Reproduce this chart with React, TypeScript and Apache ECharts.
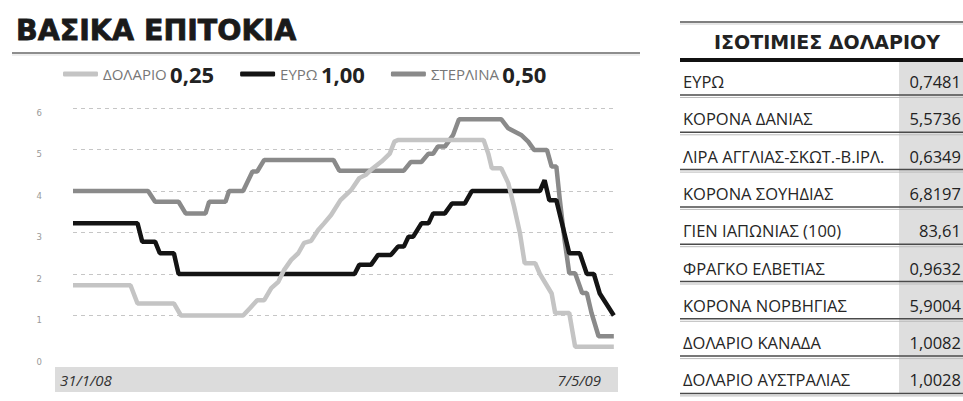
import React, { useEffect, useRef } from 'react';
import * as echarts from 'echarts';

const titleText = 'ΒΑΣΙΚΑ ΕΠΙΤΟΚΙΑ';
const seriesNames = ['ΔΟΛΑΡΙΟ', 'ΕΥΡΩ', 'ΣΤΕΡΛΙΝΑ'];
const currentRates = ['0,25', '1,00', '0,50'];
const seriesColors = ['#c4c4c4', '#141414', '#8a8a8a'];
const dateLabels = ['31/1/08', '7/5/09'];
const totalDays = 462; // 31/1/08 -> 7/5/09

// [days since 31/1/08, rate] as drawn
const dollar: [number, number][] = [
  [0, 1.73], [49, 1.73], [55, 1.29], [86, 1.29], [92, 1.0], [145, 1.0], [151, 1.18], [157, 1.37],
  [163, 1.37], [169, 1.66], [175, 1.81], [180, 2.1], [186, 2.34], [192, 2.5], [197, 2.75], [203, 2.8],
  [209, 3.06], [214, 3.22], [220, 3.42], [228, 3.78], [237, 4.02], [244, 4.31], [250, 4.4], [254, 4.51],
  [263, 4.71], [270, 4.9], [274, 5.19], [277, 5.23], [350, 5.23], [354, 4.9], [357, 4.55], [365, 4.55],
  [371, 4.19], [376, 3.62], [381, 2.98], [385, 2.26], [394, 2.26], [398, 2.0], [408, 1.53], [411, 1.06],
  [423, 1.06], [428, 0.25], [461, 0.25],
];
const euro: [number, number][] = [
  [0, 3.22], [55, 3.22], [59, 2.78], [70, 2.78], [74, 2.5], [86, 2.5], [90, 2.0], [240, 2.0],
  [244, 2.22], [254, 2.22], [260, 2.46], [271, 2.46], [277, 2.66], [282, 2.66], [286, 2.9], [290, 2.9],
  [297, 3.22], [303, 3.22], [307, 3.46], [317, 3.46], [323, 3.7], [334, 3.7], [340, 4.0], [398, 4.0],
  [402, 4.26], [406, 3.78], [412, 3.78], [423, 2.5], [432, 2.5], [438, 2.0], [444, 2.0], [449, 1.53],
  [461, 1.0],
];
const sterling: [number, number][] = [
  [0, 4.0], [64, 4.0], [70, 3.74], [90, 3.74], [96, 3.46], [113, 3.46], [116, 3.74], [130, 3.74],
  [133, 4.0], [145, 4.0], [153, 4.47], [157, 4.47], [163, 4.75], [222, 4.75], [227, 4.49], [282, 4.49],
  [288, 4.7], [297, 4.7], [303, 4.9], [307, 4.9], [311, 5.07], [317, 5.07], [320, 5.19], [324, 5.35],
  [329, 5.73], [365, 5.73], [371, 5.51], [382, 5.35], [388, 5.19], [393, 4.99], [404, 4.99], [408, 4.59],
  [412, 4.59], [415, 3.78], [419, 2.82], [423, 2.02], [428, 2.02], [434, 1.54], [438, 1.54], [442, 1.06],
  [448, 0.5], [461, 0.5],
];

const tableTitle = 'ΙΣΟΤΙΜΙΕΣ ΔΟΛΑΡΙΟΥ';
const currencies = [
  'ΕΥΡΩ', 'ΚΟΡΟΝΑ ΔΑΝΙΑΣ', 'ΛΙΡΑ ΑΓΓΛΙΑΣ-ΣΚΩΤ.-Β.ΙΡΛ.', 'ΚΟΡΟΝΑ ΣΟΥΗΔΙΑΣ', 'ΓΙΕΝ ΙΑΠΩΝΙΑΣ (100)',
  'ΦΡΑΓΚΟ ΕΛΒΕΤΙΑΣ', 'ΚΟΡΟΝΑ ΝΟΡΒΗΓΙΑΣ', 'ΔΟΛΑΡΙΟ ΚΑΝΑΔΑ', 'ΔΟΛΑΡΙΟ ΑΥΣΤΡΑΛΙΑΣ',
];
const exchangeRates = ['0,7481', '5,5736', '0,6349', '6,8197', '83,61', '0,9632', '5,9004', '1,0082', '1,0028'];

const sans = "'Open Sans', sans-serif";

export default function App() {
  const ref = useRef<HTMLDivElement>(null);
  useEffect(() => {
    if (!ref.current) return;
    const chart = echarts.init(ref.current, undefined, { renderer: 'svg' });

    const graphic: any[] = [];
    // title underline
    graphic.push({ type: 'line', shape: { x1: 12, y1: 53, x2: 640, y2: 53 }, style: { stroke: '#8e8e8e', lineWidth: 2 } });
    graphic.push({ type: 'line', shape: { x1: 12, y1: 55, x2: 640, y2: 55 }, style: { stroke: '#dddddd', lineWidth: 1 } });
    // date band
    graphic.push({ type: 'rect', shape: { x: 55, y: 367, width: 563, height: 25 }, style: { fill: '#dcdcdc' }, z: 0 });
    graphic.push({
      type: 'text', x: 60, y: 380,
      style: { text: dateLabels[0], font: `italic 15px ${sans}`, fill: '#333', textAlign: 'left', textVerticalAlign: 'middle' },
    });
    graphic.push({
      type: 'text', x: 601, y: 380,
      style: { text: dateLabels[1], font: `italic 15px ${sans}`, fill: '#333', textAlign: 'right', textVerticalAlign: 'middle' },
    });

    // table
    const tx0 = 680, tx1 = 963;
    const rowH = 37.3;
    graphic.push({ type: 'line', shape: { x1: tx0, y1: 22, x2: tx1, y2: 22 }, style: { stroke: '#555', lineWidth: 1.5 } });
    graphic.push({ type: 'line', shape: { x1: tx0, y1: 24, x2: tx1, y2: 24 }, style: { stroke: '#ccc', lineWidth: 1 } });
    graphic.push({
      type: 'text', x: 827, y: 42,
      style: {
        text: tableTitle, font: 'bold 19px "DejaVu Sans", sans-serif', fill: '#222',
        textAlign: 'center', textVerticalAlign: 'middle',
      },
    });
    graphic.push({ type: 'rect', shape: { x: 899, y: 61, width: 64, height: 333 }, style: { fill: '#dedede' } });
    graphic.push({ type: 'line', shape: { x1: tx0, y1: 60, x2: tx1, y2: 60 }, style: { stroke: '#111', lineWidth: 4 } });
    currencies.forEach((name, i) => {
      const cy = 81.5 + rowH * i;
      const ly = 95 + rowH * i;
      graphic.push({
        type: 'text', x: 683, y: cy,
        style: { text: name, font: `16.5px ${sans}`, fill: '#262626', textAlign: 'left', textVerticalAlign: 'middle' },
      });
      graphic.push({
        type: 'text', x: 961, y: cy,
        style: { text: exchangeRates[i], font: `16.5px ${sans}`, fill: '#222', textAlign: 'right', textVerticalAlign: 'middle' },
      });
      graphic.push({ type: 'line', shape: { x1: tx0, y1: ly, x2: tx1, y2: ly }, style: { stroke: '#4a4a4a', lineWidth: 1.5 } });
      graphic.push({ type: 'line', shape: { x1: tx0, y1: ly + 2.5, x2: tx1, y2: ly + 2.5 }, style: { stroke: '#bbbbbb', lineWidth: 1 } });
    });

    const datasets = [dollar, euro, sterling];
    const zs = [4, 3, 2];

    chart.setOption({
      animation: false,
      title: {
        text: titleText, left: 11, top: 11,
        textStyle: {
          fontFamily: 'DejaVu Sans', fontWeight: 'bold', fontSize: 28.5, color: '#1a1a1a',
          textBorderColor: '#1a1a1a', textBorderWidth: 0.8,
        },
      },
      legend: {
        left: 58, top: 58,
        icon: 'roundRect', itemWidth: 35, itemHeight: 5, itemGap: 26,
        data: seriesNames,
        formatter: (name: string) => `{n|${name}} {b|${currentRates[seriesNames.indexOf(name)]}}`,
        textStyle: {
          rich: {
            n: { fontFamily: sans, fontSize: 15, color: '#777' },
            b: { fontFamily: sans, fontWeight: 'bold', fontSize: 22, color: '#222' },
          },
        },
      },
      grid: { left: 73, top: 108, width: 542, height: 249 },
      xAxis: { type: 'value', min: 0, max: totalDays, show: false },
      yAxis: {
        type: 'value', min: 0, max: 6, interval: 1,
        axisLine: { show: false }, axisTick: { show: false },
        axisLabel: { fontSize: 8.5, color: '#999', margin: 31, verticalAlign: 'top', fontFamily: 'DejaVu Sans' },
        splitLine: { show: true, showMinLine: false, lineStyle: { type: [4, 4], color: '#c6c6c6', width: 1 } },
      },
      series: seriesNames.map((name, i) => ({
        name, type: 'line', data: datasets[i], symbol: 'none', z: zs[i],
        color: seriesColors[i],
        lineStyle: { color: seriesColors[i], width: 4.5 },
        itemStyle: { color: seriesColors[i] },
      })),
      graphic,
    });
    return () => chart.dispose();
  }, []);
  return <div ref={ref} style={{ position: 'fixed', left: 0, top: 0, width: 963, height: 401, background: '#fff' }} />;
}
